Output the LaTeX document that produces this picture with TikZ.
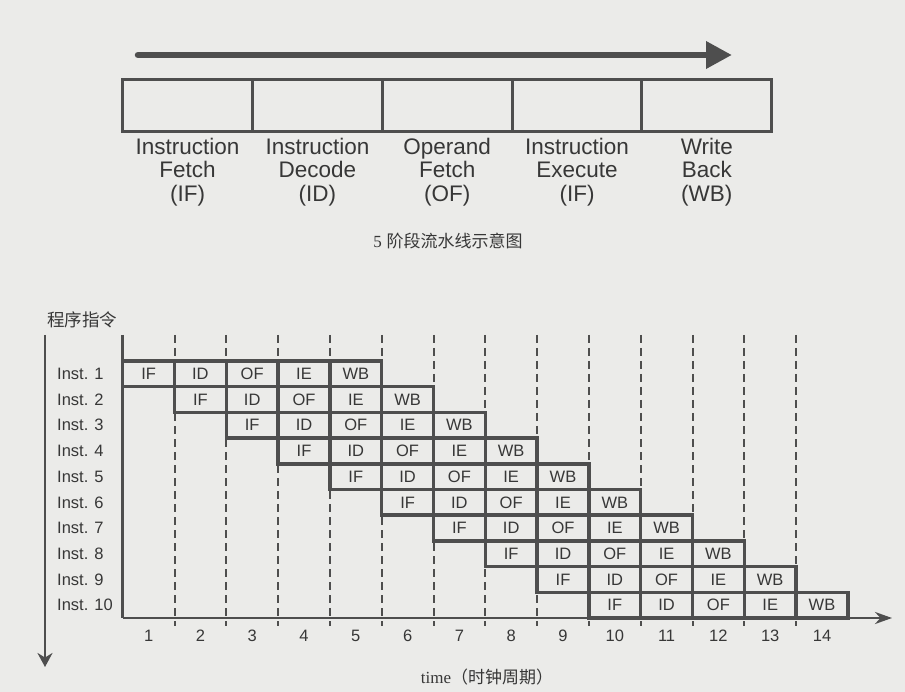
\documentclass[tikz,border=0pt]{standalone}
\usepackage{fontspec}
\setmainfont{Liberation Sans}
\newfontfamily\cjk{Noto Sans CJK SC}
\newfontfamily\timesfont{Liberation Serif}
\usetikzlibrary{positioning, calc, arrows.meta}
\definecolor{paper}{RGB}{235,235,233}
\definecolor{ink}{RGB}{78,78,78}
\definecolor{txt}{RGB}{55,55,55}

\tikzset{
  stagebox/.style={draw=ink, line width=3pt, minimum width=129.8pt, minimum height=51.7pt, inner sep=0pt},
  stagelabel/.style={text=txt, align=center, inner sep=0pt, font=\fontsize{22.5}{23.3}\selectfont},
  cell/.style={draw=ink, line width=3.5pt, minimum width=51.8pt, minimum height=25.7pt, inner sep=0pt, text=txt, font=\fontsize{16.5}{16.5}\selectfont},
  smalltext/.style={text=txt, inner sep=0pt, font=\fontsize{16.5}{16.5}\selectfont},
  cycleline/.style={draw=ink, line width=2pt, dash pattern=on 8pt off 5pt},
  axisline/.style={draw=ink, line width=2.8pt},
}

\begin{document}
\begin{tikzpicture}[x=1pt, y=-1pt]

    % --- Page ---
    \useasboundingbox (0,0) rectangle (905,692);
    \fill[paper] (0,0) rectangle (905,692);

    % --- Flow arrow over the stages ---
    \coordinate (flowStart) at (138,55);
    \coordinate (flowEnd) at (732,55);
    \draw[draw=ink, line width=6.5pt, line cap=round, -{Triangle[length=26pt,width=26pt]}] (flowStart) -- (flowEnd);

    % --- The five stages ---
    \foreach \n/\txt [count=\j] in {Instruction\\Fetch\\(IF), Instruction\\Decode\\(ID),
                                    Operand\\Fetch\\(OF), Instruction\\Execute\\(IF), Write\\Back\\(WB)} {
        \node[stagebox] (s\j) at ({122.7+129.8*(\j-0.5)},105.8) {};
        \node[stagelabel] (l\j) at ({122.7+129.8*(\j-0.5)},172) {\n};
    }

    % caption
    \node[text=txt, inner sep=0pt, font=\fontsize{17}{17}\selectfont] (caption) at (448,241)
        {{\timesfont 5} {\cjk 阶段流水线示意图}};

    % --- Instruction axis (left, pointing down) ---
    \node[text=txt, inner sep=0pt, font=\cjk\fontsize{17.5}{17.5}\selectfont] (progLabel) at (82,320) {程序指令};
    \coordinate (progTop) at (45,335);
    \coordinate (progEnd) at (45,667);
    \draw[axisline, -{Stealth[length=14pt,width=15pt]}] (progTop) -- (progEnd);

    % --- Clock cycle lines (dashed) ---
    \foreach \k in {1,...,13} {
        \coordinate (g\k top) at ({122.7+51.8*\k},335);
        \coordinate (g\k bot) at ({122.7+51.8*\k},626);
        \draw[cycleline] (g\k top) -- (g\k bot);
    }

    % --- Frame and time axis ---
    \coordinate (frameTop) at (122.7,335);
    \coordinate (origin) at (122.7,618);
    \coordinate (timeEnd) at (892,618);
    \draw[axisline] (frameTop) -- (origin);
    \draw[axisline, -{Stealth[length=17pt,width=12pt]}] (origin) -- (timeEnd);

    % --- Pipeline cells: Inst i enters IF in cycle i ---
    \foreach \i in {1,...,10} {
        \node[smalltext, anchor=west] (inst\i) at (57,{361+25.7*(\i-0.5)}) {Inst. \i};
        \foreach \st [count=\j] in {IF,ID,OF,IE,WB} {
            \pgfmathsetmacro\c{\i+\j-1}
            \node[cell] (c\i-\j) at ({122.7+51.8*(\c-0.5)},{361+25.7*(\i-0.5)}) {\st};
        }
    }

    % --- Cycle numbers ---
    \foreach \k in {1,...,14} {
        \node[smalltext] (t\k) at ({122.7+51.8*(\k-0.5)},636) {\k};
    }
    \node[text=txt, inner sep=0pt, font=\fontsize{17}{17}\selectfont] (timeLabel) at (487,677)
        {{\timesfont time}{\cjk （时钟周期）}};

\end{tikzpicture}
\end{document}
